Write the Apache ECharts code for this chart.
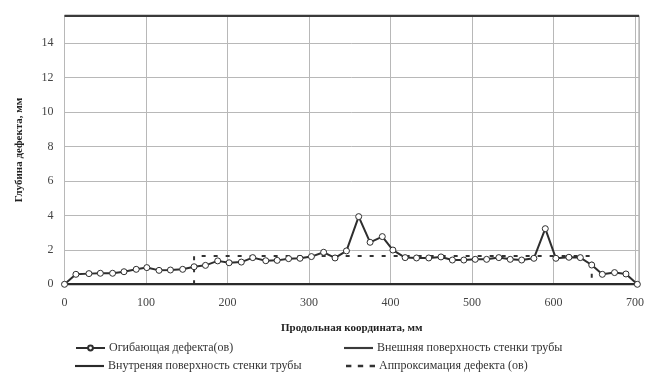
<!DOCTYPE html>
<html><head><meta charset="utf-8">
<script src="https://cdn.jsdelivr.net/npm/echarts@6/dist/echarts.min.js"></script>
<style>html,body{margin:0;padding:0;background:#fff}#c{width:653px;height:382px}</style>
</head><body><div id="c"></div>
<script>
var envelopeX = [0,14,30,44,59,73,88,101,116,130,145,159,173,188,202,217,231,247,261,275,289,303,318,332,346,361,375,390,403,418,432,447,462,476,490,504,518,533,547,561,576,590,603,619,633,647,660,675,689,703];
var envelopeY = [0,0.58,0.62,0.64,0.64,0.73,0.87,0.97,0.81,0.83,0.87,1.02,1.1,1.36,1.25,1.29,1.55,1.37,1.39,1.49,1.51,1.61,1.86,1.53,1.94,3.93,2.44,2.77,1.99,1.55,1.53,1.53,1.59,1.41,1.41,1.45,1.45,1.55,1.45,1.41,1.51,3.23,1.51,1.57,1.55,1.12,0.58,0.68,0.6,0];
var outerX = [0, 705];
var outerY = [15.6, 15.6];
var innerX = [0, 700];
var innerY = [0, 0];
var approxX = [159, 159, 647, 647];
var approxY = [0, 1.65, 1.65, 0];
var xTicks = [0,100,200,300,400,500,600,700];
var yTicks = [0,2,4,6,8,10,12,14];
var names = ['Огибающая дефекта(ов)','Внешняя поверхность стенки трубы','Внутреняя поверхность стенки трубы','Аппроксимация дефекта (ов)'];

function pairs(xs, ys){ return xs.map(function(x,i){return [x, ys[i]];}); }
var font = 'Liberation Serif';
var dark = '#2e2e2e';
var solidIcon = 'path://M0,0H30V2.2H0Z';
var dashIcon = 'path://M0,0H5V2.2H0Z M11,0H16V2.2H11Z M22,0H27V2.2H22Z';
function leg(item, left, top, h){
  return {data:[item], left:left, top:top, padding:0, orient:'horizontal', itemWidth:29, itemHeight:h||10, itemGap:4,
    textStyle:{fontFamily:font, fontSize:12, color:'#333', padding:[0,0,0,-1]}, selectedMode:false};
}
var chart = echarts.init(document.getElementById('c'), null, {renderer:'canvas'});
chart.setOption({
  animation:false,
  backgroundColor:'#fff',
  grid:{left:64.5, right:14, top:15.7, bottom:97.7, show:true, borderColor:'#9a9a9a', borderWidth:1},
  legend:[
    leg({name:names[0]}, 75, 342, 6),
    leg({name:names[1], icon:solidIcon}, 344, 342),
    leg({name:names[2], icon:solidIcon}, 75, 360),
    leg({name:names[3], icon:dashIcon}, 346, 360)
  ],
  xAxis:{type:'value', min:0, max:705, interval:100,
    name:'Продольная координата, мм', nameLocation:'middle', nameGap:38,
    nameTextStyle:{fontFamily:font, fontSize:11, fontWeight:'bold', color:'#222'},
    axisLine:{show:false}, axisTick:{show:false},
    axisLabel:{fontFamily:font, fontSize:12, color:'#444', margin:13, showMaxLabel:false,
      formatter:function(v){return xTicks.indexOf(v)>=0? String(v):'';}},
    splitLine:{show:true, lineStyle:{color:'#b8b8b8', width:1}}},
  yAxis:{type:'value', min:0, max:15.6, interval:2,
    name:'Глубина дефекта, мм', nameLocation:'middle', nameGap:40, nameRotate:90,
    nameTextStyle:{fontFamily:font, fontSize:11, fontWeight:'bold', color:'#222'},
    axisLine:{show:false}, axisTick:{show:false},
    axisLabel:{fontFamily:font, fontSize:12, color:'#444', margin:11, showMaxLabel:false,
      formatter:function(v){return yTicks.indexOf(v)>=0? String(v):'';}},
    splitLine:{show:true, lineStyle:{color:'#b8b8b8', width:1}}},
  series:[
    {name:names[0], type:'line', data:pairs(envelopeX, envelopeY), z:5,
      symbol:'circle', symbolSize:6, showSymbol:true,
      lineStyle:{color:dark, width:2}, itemStyle:{color:'#fff', borderColor:dark, borderWidth:1}},
    {name:names[1], type:'line', data:pairs(outerX, outerY), symbol:'none', z:4,
      lineStyle:{color:'#3a3a3a', width:2.5}, itemStyle:{color:'#3a3a3a'}},
    {name:names[2], type:'line', data:pairs(innerX, innerY), symbol:'none', z:4,
      lineStyle:{color:'#2a2a2a', width:2.5}, itemStyle:{color:'#2a2a2a'}},
    {name:names[3], type:'line', data:pairs(approxX, approxY), symbol:'none', z:3,
      lineStyle:{color:'#333', width:2, type:[4,8]}, itemStyle:{color:'#333'}}
  ]
});
</script></body></html>
